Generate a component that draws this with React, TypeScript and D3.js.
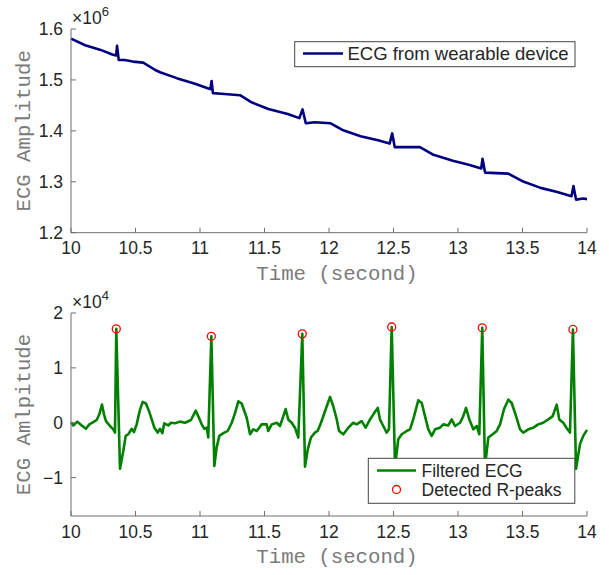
import React from 'react';
import * as d3 from 'd3';

// raw signal from the wearable (amplitude in counts)
const rawTime = [
  10.0, 10.11, 10.23, 10.32, 10.35, 10.357, 10.37, 10.415, 10.48, 10.56, 10.65, 10.69,
  10.82, 10.955, 11.06, 11.08, 11.09, 11.1, 11.165, 11.31, 11.4, 11.53, 11.68, 11.77,
  11.795, 11.82, 11.89, 12.01, 12.11, 12.245, 12.38, 12.47, 12.49, 12.51, 12.59, 12.705,
  12.81, 12.96, 13.09, 13.18, 13.19, 13.21, 13.3, 13.39, 13.495, 13.64, 13.77, 13.88,
  13.895, 13.915, 13.97, 14.0,
];
const rawAmp = [
  1.581e6, 1.568e6, 1.559e6, 1.55e6, 1.548e6, 1.567e6, 1.539e6, 1.539e6, 1.536e6, 1.534e6, 1.52e6, 1.515e6,
  1.5035e6, 1.493e6, 1.4835e6, 1.482e6, 1.498e6, 1.474e6, 1.473e6, 1.47e6, 1.456e6, 1.443e6, 1.433e6, 1.425e6,
  1.442e6, 1.415e6, 1.417e6, 1.415e6, 1.401e6, 1.3895e6, 1.3815e6, 1.375e6, 1.395e6, 1.368e6, 1.368e6, 1.368e6,
  1.353e6, 1.3415e6, 1.333e6, 1.326e6, 1.345e6, 1.318e6, 1.317e6, 1.316e6, 1.3016e6, 1.288e6, 1.28e6, 1.2716e6,
  1.2916e6, 1.265e6, 1.267e6, 1.266e6,
];

// filtered ECG
const filtTime = [
  10.0, 10.018, 10.049, 10.083, 10.116, 10.142, 10.173, 10.199, 10.219, 10.24, 10.256, 10.271,
  10.302, 10.328, 10.341, 10.351, 10.38, 10.405, 10.424, 10.444, 10.471, 10.488, 10.509, 10.535,
  10.556, 10.581, 10.605, 10.63, 10.646, 10.672, 10.69, 10.708, 10.723, 10.754, 10.775, 10.806,
  10.845, 10.884, 10.93, 10.967, 10.992, 11.013, 11.033, 11.052, 11.064, 11.088, 11.111, 11.129,
  11.15, 11.181, 11.215, 11.246, 11.271, 11.297, 11.323, 11.362, 11.388, 11.413, 11.44, 11.478,
  11.517, 11.529, 11.556, 11.595, 11.62, 11.646, 11.664, 11.684, 11.711, 11.736, 11.762, 11.793,
  11.814, 11.835, 11.86, 11.891, 11.912, 11.938, 11.969, 12.008, 12.033, 12.06, 12.078, 12.111,
  12.15, 12.188, 12.214, 12.253, 12.284, 12.318, 12.351, 12.378, 12.395, 12.421, 12.447, 12.465,
  12.486, 12.512, 12.537, 12.564, 12.602, 12.628, 12.653, 12.692, 12.719, 12.744, 12.77, 12.796,
  12.822, 12.86, 12.886, 12.925, 12.951, 12.977, 13.016, 13.041, 13.062, 13.088, 13.119, 13.145,
  13.165, 13.188, 13.209, 13.235, 13.269, 13.3, 13.326, 13.357, 13.39, 13.416, 13.45, 13.481,
  13.506, 13.545, 13.584, 13.622, 13.661, 13.7, 13.734, 13.765, 13.785, 13.816, 13.84, 13.868,
  13.891, 13.915, 13.946, 13.971, 14.0,
];
const filtAmp = [
  100, -500, 200, -500, -1100, -300, 100, 500, 1500, 3300, 1500, 300,
  -600, -1200, -1800, 17100, -8400, -5200, -2400, -2100, -1100, -1700, -300, 2400,
  3800, 3500, 2100, 300, -900, -1800, -1100, -1900, -100, -500, 0, -100,
  200, 0, 500, 2200, 900, -300, -1100, -900, -2700, 15750, -7900, -4500,
  -2400, -1900, -1500, 0, 1700, 3900, 3500, 900, -2100, -1200, -1500, -300,
  -300, -1500, -300, 0, -600, 1200, 2500, 600, 0, -900, -2700, 16200,
  -8000, -4900, -2700, -1800, -1500, 0, 2100, 4700, 3000, 600, -1500, -2100,
  -900, 0, -300, 300, -900, 600, 1800, 2700, 600, -600, -1800, -1200,
  17450, -8000, -3000, -2100, -1500, -1200, 600, 4100, 3600, 1200, -1200, -2400,
  -1200, -900, -300, -500, 600, -600, 0, 1200, 2700, 600, -1200, -600,
  -2100, 17300, -8000, -2700, -2100, -1500, -300, 2500, 4200, 3600, 1200, -1200,
  -1800, -1200, -900, -300, 0, 600, 1200, 3300, 600, 0, -900, -1800,
  17000, -8400, -3900, -2400, -1300,
];

// detected R-peaks
const peakTime = [10.351, 11.088, 11.793, 12.486, 13.188, 13.891];
const peakAmp = [17100, 15750, 16200, 17450, 17300, 17000];

const xTicks = [10, 10.5, 11, 11.5, 12, 12.5, 13, 13.5, 14];
const topTicks = [1.2e6, 1.3e6, 1.4e6, 1.5e6, 1.6e6];
const bottomTicks = [-1e4, 0, 1e4, 2e4];

const W = 609;
const H = 575;
const PLOT_LEFT = 71;
const PLOT_RIGHT = 587;
const AXIS_COLOR = '#6f6f6f';
const TEXT_COLOR = '#262626';
const LABEL_COLOR = '#7a7a7a';
const SANS = '"Liberation Sans", Arial, sans-serif';
const MONO = '"Liberation Mono", "Courier New", monospace';

const x = d3.scaleLinear().domain([10, 14]).range([PLOT_LEFT, PLOT_RIGHT]);

type AxesProps = {
  top: number;
  bottom: number;
  y: d3.ScaleLinear<number, number>;
  yTicks: number[];
  power: number;
  ylabel: string;
  children?: React.ReactNode;
};

function Axes({ top, bottom, y, yTicks, power, ylabel, children }: AxesProps) {
  const mid = (top + bottom) / 2;
  const div = Math.pow(10, power);
  return (
    <g>
      {children}
      {/* axis lines */}
      <line x1={PLOT_LEFT} x2={PLOT_LEFT} y1={top} y2={bottom} stroke={AXIS_COLOR} strokeWidth={1} />
      <line x1={PLOT_LEFT} x2={PLOT_RIGHT} y1={bottom} y2={bottom} stroke={AXIS_COLOR} strokeWidth={1} />
      {yTicks.map((t) => (
        <g key={'y' + t}>
          <line x1={PLOT_LEFT} x2={PLOT_LEFT + 5} y1={y(t)} y2={y(t)} stroke={AXIS_COLOR} />
          <text x={PLOT_LEFT - 8} y={y(t)} dy="0.36em" textAnchor="end" fontSize={17.5} fontFamily={SANS} fill={TEXT_COLOR}>
            {d3.format('~g')(+(t / div).toFixed(2))}
          </text>
        </g>
      ))}
      {xTicks.map((t) => (
        <g key={'x' + t}>
          <line x1={x(t)} x2={x(t)} y1={bottom} y2={bottom - 5} stroke={AXIS_COLOR} />
          <text x={x(t)} y={bottom + 21.5} textAnchor="middle" fontSize={17.5} fontFamily={SANS} fill={TEXT_COLOR}>
            {t}
          </text>
        </g>
      ))}
      <text x={PLOT_LEFT + 1} y={top - 5.5} fontSize={17.5} fontFamily={SANS} fill={TEXT_COLOR}>
        ×10
        <tspan dy={-8} fontSize={13}>{power}</tspan>
      </text>
      <text x={337} y={bottom + 47} textAnchor="middle" fontSize={20.7} fontFamily={MONO} fill={LABEL_COLOR}>
        Time (second)
      </text>
      <text transform={`translate(30,${mid}) rotate(-90)`} textAnchor="middle" fontSize={20.7} fontFamily={MONO} fill={LABEL_COLOR}>
        {ylabel}
      </text>
    </g>
  );
}

export default function App() {
  const yTop = d3.scaleLinear().domain([1.2e6, 1.6e6]).range([232.7, 29]);
  const yBot = d3.scaleLinear().domain([-1.7e4, 2e4]).range([516, 313]);

  const rawLine = d3
    .line<number>()
    .x((_, i) => x(rawTime[i]))
    .y((d) => yTop(d));
  const filtLine = d3
    .line<number>()
    .x((_, i) => x(filtTime[i]))
    .y((d) => yBot(d));

  return (
    <svg width={W} height={H} style={{ position: 'absolute', left: 0, top: 0, background: '#fff' }}>
      <Axes top={29} bottom={232.7} y={yTop} yTicks={topTicks} power={6} ylabel="ECG Amplitude">
        <path d={rawLine(rawAmp) || ''} fill="none" stroke="#000080" strokeWidth={2.6} strokeLinejoin="round" />
      </Axes>
      {/* legend, top */}
      <rect x={294.7} y={41.7} width={280.3} height={25} fill="#fff" stroke="#444" />
      <line x1={303} x2={343} y1={53.5} y2={53.5} stroke="#000080" strokeWidth={2.6} />
      <text x={347.5} y={59.8} fontSize={18.5} fontFamily={SANS} fill={TEXT_COLOR}>
        ECG from wearable device
      </text>

      <Axes top={313} bottom={516} y={yBot} yTicks={bottomTicks} power={4} ylabel="ECG Amlpitude">
        <path d={filtLine(filtAmp) || ''} fill="none" stroke="#008000" strokeWidth={2.6} strokeLinejoin="round" />
        {peakAmp.map((v, i) => (
          <circle key={i} cx={x(peakTime[i])} cy={yBot(v)} r={4} fill="none" stroke="#ff0000" strokeWidth={1.3} />
        ))}
      </Axes>
      {/* legend, bottom */}
      <rect x={368.3} y={458.3} width={206.5} height={45} fill="#fff" stroke="#444" />
      <line x1={377} x2={416} y1={470.5} y2={470.5} stroke="#008000" strokeWidth={2.6} />
      <text x={421.5} y={477} fontSize={17.5} fontFamily={SANS} fill={TEXT_COLOR}>
        Filtered ECG
      </text>
      <circle cx={396.5} cy={489.5} r={4} fill="none" stroke="#ff0000" strokeWidth={1.3} />
      <text x={421.5} y={496} fontSize={17.5} fontFamily={SANS} fill={TEXT_COLOR}>
        Detected R-peaks
      </text>
    </svg>
  );
}
